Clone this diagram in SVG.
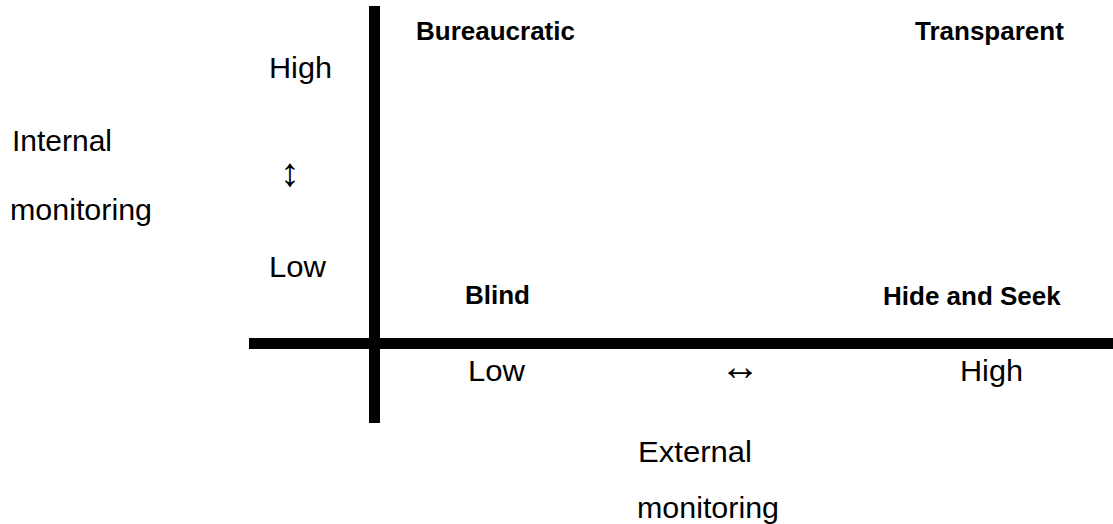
<svg xmlns="http://www.w3.org/2000/svg" width="1113" height="524" viewBox="0 0 1113 524">
<style>
.r{font-family:"Liberation Sans",Arial,sans-serif;font-size:30px;fill:#000}
.a{font-family:"Liberation Sans",Arial,sans-serif;font-size:40px;fill:#000}
.b{font-family:"Liberation Sans",Arial,sans-serif;font-size:26px;font-weight:bold;fill:#000}
</style>
<rect width="1113" height="524" fill="#fff"/>
<g id="axes">
<rect x="369" y="6" width="11" height="417" fill="#000"/>
<rect x="249" y="338" width="864" height="11" fill="#000"/>
</g>
<g id="y-axis-labels">
<text class="r" x="269" y="78" textLength="63" lengthAdjust="spacingAndGlyphs">High</text>
<text class="a" x="280" y="186">↕</text>
<text class="r" x="269" y="277" textLength="57" lengthAdjust="spacingAndGlyphs">Low</text>
<text class="r" x="12" y="151" textLength="100" lengthAdjust="spacingAndGlyphs">Internal</text>
<text class="r" x="10" y="220" textLength="142" lengthAdjust="spacingAndGlyphs">monitoring</text>
</g>
<g id="x-axis-labels">
<text class="r" x="468" y="381" textLength="57" lengthAdjust="spacingAndGlyphs">Low</text>
<text class="a" x="720" y="380">↔</text>
<text class="r" x="960" y="381" textLength="63" lengthAdjust="spacingAndGlyphs">High</text>
<text class="r" x="638" y="462" textLength="114" lengthAdjust="spacingAndGlyphs">External</text>
<text class="r" x="637" y="518" textLength="142" lengthAdjust="spacingAndGlyphs">monitoring</text>
</g>
<g id="quadrants">
<text class="b" x="416" y="40">Bureaucratic</text>
<text class="b" x="915" y="40">Transparent</text>
<text class="b" x="465" y="304">Blind</text>
<text class="b" x="883" y="305">Hide and Seek</text>
</g>
</svg>
